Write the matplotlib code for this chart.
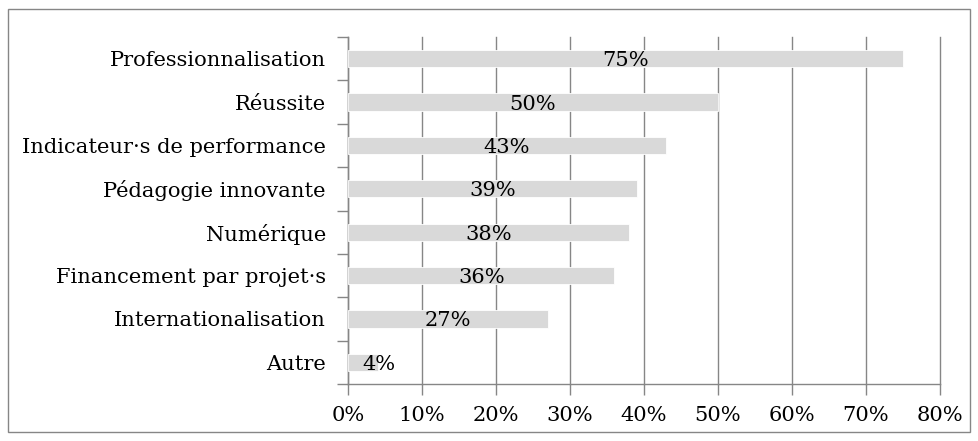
import matplotlib
matplotlib.use("Agg")
import matplotlib.pyplot as plt
from matplotlib.patches import Rectangle
from matplotlib.ticker import FixedLocator, NullFormatter

categories = ["Professionnalisation", "Réussite", "Indicateur·s de performance",
              "Pédagogie innovante", "Numérique", "Financement par projet·s",
              "Internationalisation", "Autre"]
values = [75, 50, 43, 39, 38, 36, 27, 4]
xticks = [0, 10, 20, 30, 40, 50, 60, 70, 80]
xticklabels = ["0%", "10%", "20%", "30%", "40%", "50%", "60%", "70%", "80%"]

plt.rcParams['font.family'] = ['DejaVu Serif']
FS = 15.1
W, H = 979, 441
fig = plt.figure(figsize=(W/100, H/100), dpi=100)
fig.patches.append(Rectangle((8/W, 9/H), (970-8)/W, (432-9)/H, transform=fig.transFigure,
                             fill=False, edgecolor='#868686', linewidth=1.0))

left, right, top, bottom = 348, 940, 37, 384
ax = fig.add_axes([left/W, 1-bottom/H, (right-left)/W, (bottom-top)/H])
n = len(categories)
ypos = list(range(n))
ax.barh(ypos, values, height=0.4, color='#d9d9d9', edgecolor='white', linewidth=0.6, zorder=3)
ax.set_ylim(n-0.5, -0.5)
ax.set_xlim(0, 80)
ax.set_xticks(xticks)
ax.set_xticklabels(xticklabels, fontsize=FS)
ax.set_yticks(ypos)
ax.set_yticklabels(categories, fontsize=FS)
ax.tick_params(axis='y', length=0, pad=16)
ax.yaxis.set_minor_locator(FixedLocator([i-0.5 for i in range(n+1)]))
ax.yaxis.set_minor_formatter(NullFormatter())
ax.tick_params(axis='y', which='minor', length=8, color='#868686', width=1)
ax.tick_params(axis='x', length=8, color='#868686', width=1, pad=8)
ax.grid(axis='x', color='#868686', linewidth=1, zorder=0)
ax.set_axisbelow(True)
for gl in ax.get_xgridlines():
    gl.set_clip_on(False)
for s in ['top', 'right']:
    ax.spines[s].set_visible(False)
for s in ['left', 'bottom']:
    ax.spines[s].set_color('#868686')
    ax.spines[s].set_linewidth(1)

for y, v in zip(ypos, values):
    ha = 'left' if v < 10 else 'center'
    ax.annotate(f"{v}%", xy=(v/2, y), xytext=(0, -2), textcoords='offset pixels',
                ha=ha, va='center', fontsize=FS, zorder=4)

fig.savefig("out.png", dpi=100)
